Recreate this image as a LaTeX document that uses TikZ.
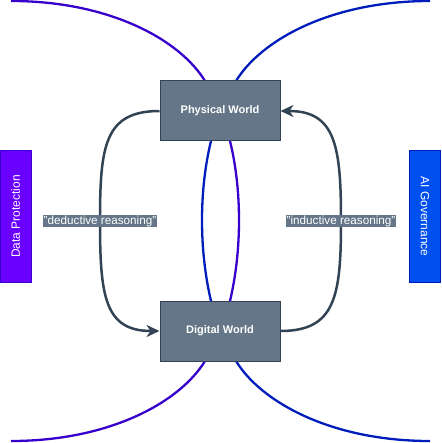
\documentclass[tikz,border=0pt]{standalone}
\usepackage{fontspec}
\setmainfont{Liberation Sans}
\usepackage{tikz}
\usetikzlibrary{arrows.meta,positioning,shapes}
\definecolor{slatefill}{RGB}{100, 118, 135}
\definecolor{slateline}{RGB}{49, 67, 84}
\definecolor{violetfill}{RGB}{106, 0, 255}
\definecolor{violetline}{RGB}{55, 0, 204}
\definecolor{cobaltfill}{RGB}{0, 80, 239}
\definecolor{cobaltline}{RGB}{0, 29, 188}
\tikzstyle{world} = [
    rectangle,
    minimum width=120pt,
    minimum height=60pt,
    line width=1pt,
    draw=slateline,
    fill=slatefill,
    text=white,
    font=\fontsize{11}{13}\selectfont\bfseries
]
\tikzstyle{side} = [
    rectangle,
    minimum width=131pt,
    minimum height=31pt,
    line width=1pt,
    text=white,
    font=\fontsize{12}{14}\selectfont
]
\tikzstyle{link} = [
    line width=2.5pt,
    draw=slateline,
    -{Stealth[length=13pt,width=12pt,inset=4pt]}
]
\tikzstyle{lbl} = [
    fill=slatefill,
    text=white,
    inner sep=1pt,
    font=\fontsize{11.7}{14}\selectfont
]
\tikzstyle{wave} = [
    line width=2.3pt
]

\begin{document}
\begin{tikzpicture}[x=1pt, y=-1pt]
    \useasboundingbox (0,0) rectangle (441,443);
    % background curves
    \draw[wave, draw=violetline] (11,1) .. controls (110,1) and (180,40) .. (205,81)
        -- (230,141) .. controls (242,190) and (242,250) .. (230,301)
        -- (205,361) .. controls (180,402) and (110,441) .. (11,441);
    \draw[wave, draw=cobaltline] (430,1) .. controls (331,1) and (261,40) .. (236,81)
        -- (211,141) .. controls (199,190) and (199,250) .. (211,301)
        -- (236,361) .. controls (261,402) and (331,441) .. (430,441);
    % worlds
    \node[world] (phys) at (220,111) {Physical World};
    \node[world] (dig) at (220,331) {Digital World};
    % side boxes
    \node[side, draw=violetline, fill=violetfill, rotate=90] (dp) at (15.5,216.5) {Data Protection};
    \node[side, draw=cobaltline, fill=cobaltfill, rotate=-90] (aig) at (425,216.5) {AI Governance};
    % reasoning
    \draw[link] (phys.west) .. controls +(-55,0) and +(0,-75) .. (100,221)
        node[lbl] (ded) {"deductive reasoning"}
        .. controls +(0,75) and +(-55,0) .. (dig.west);
    \draw[link] (dig.east) .. controls +(55,0) and +(0,75) .. (341,221)
        node[lbl] (ind) {"inductive reasoning"}
        .. controls +(0,-75) and +(55,0) .. (phys.east);
\end{tikzpicture}
\end{document}
